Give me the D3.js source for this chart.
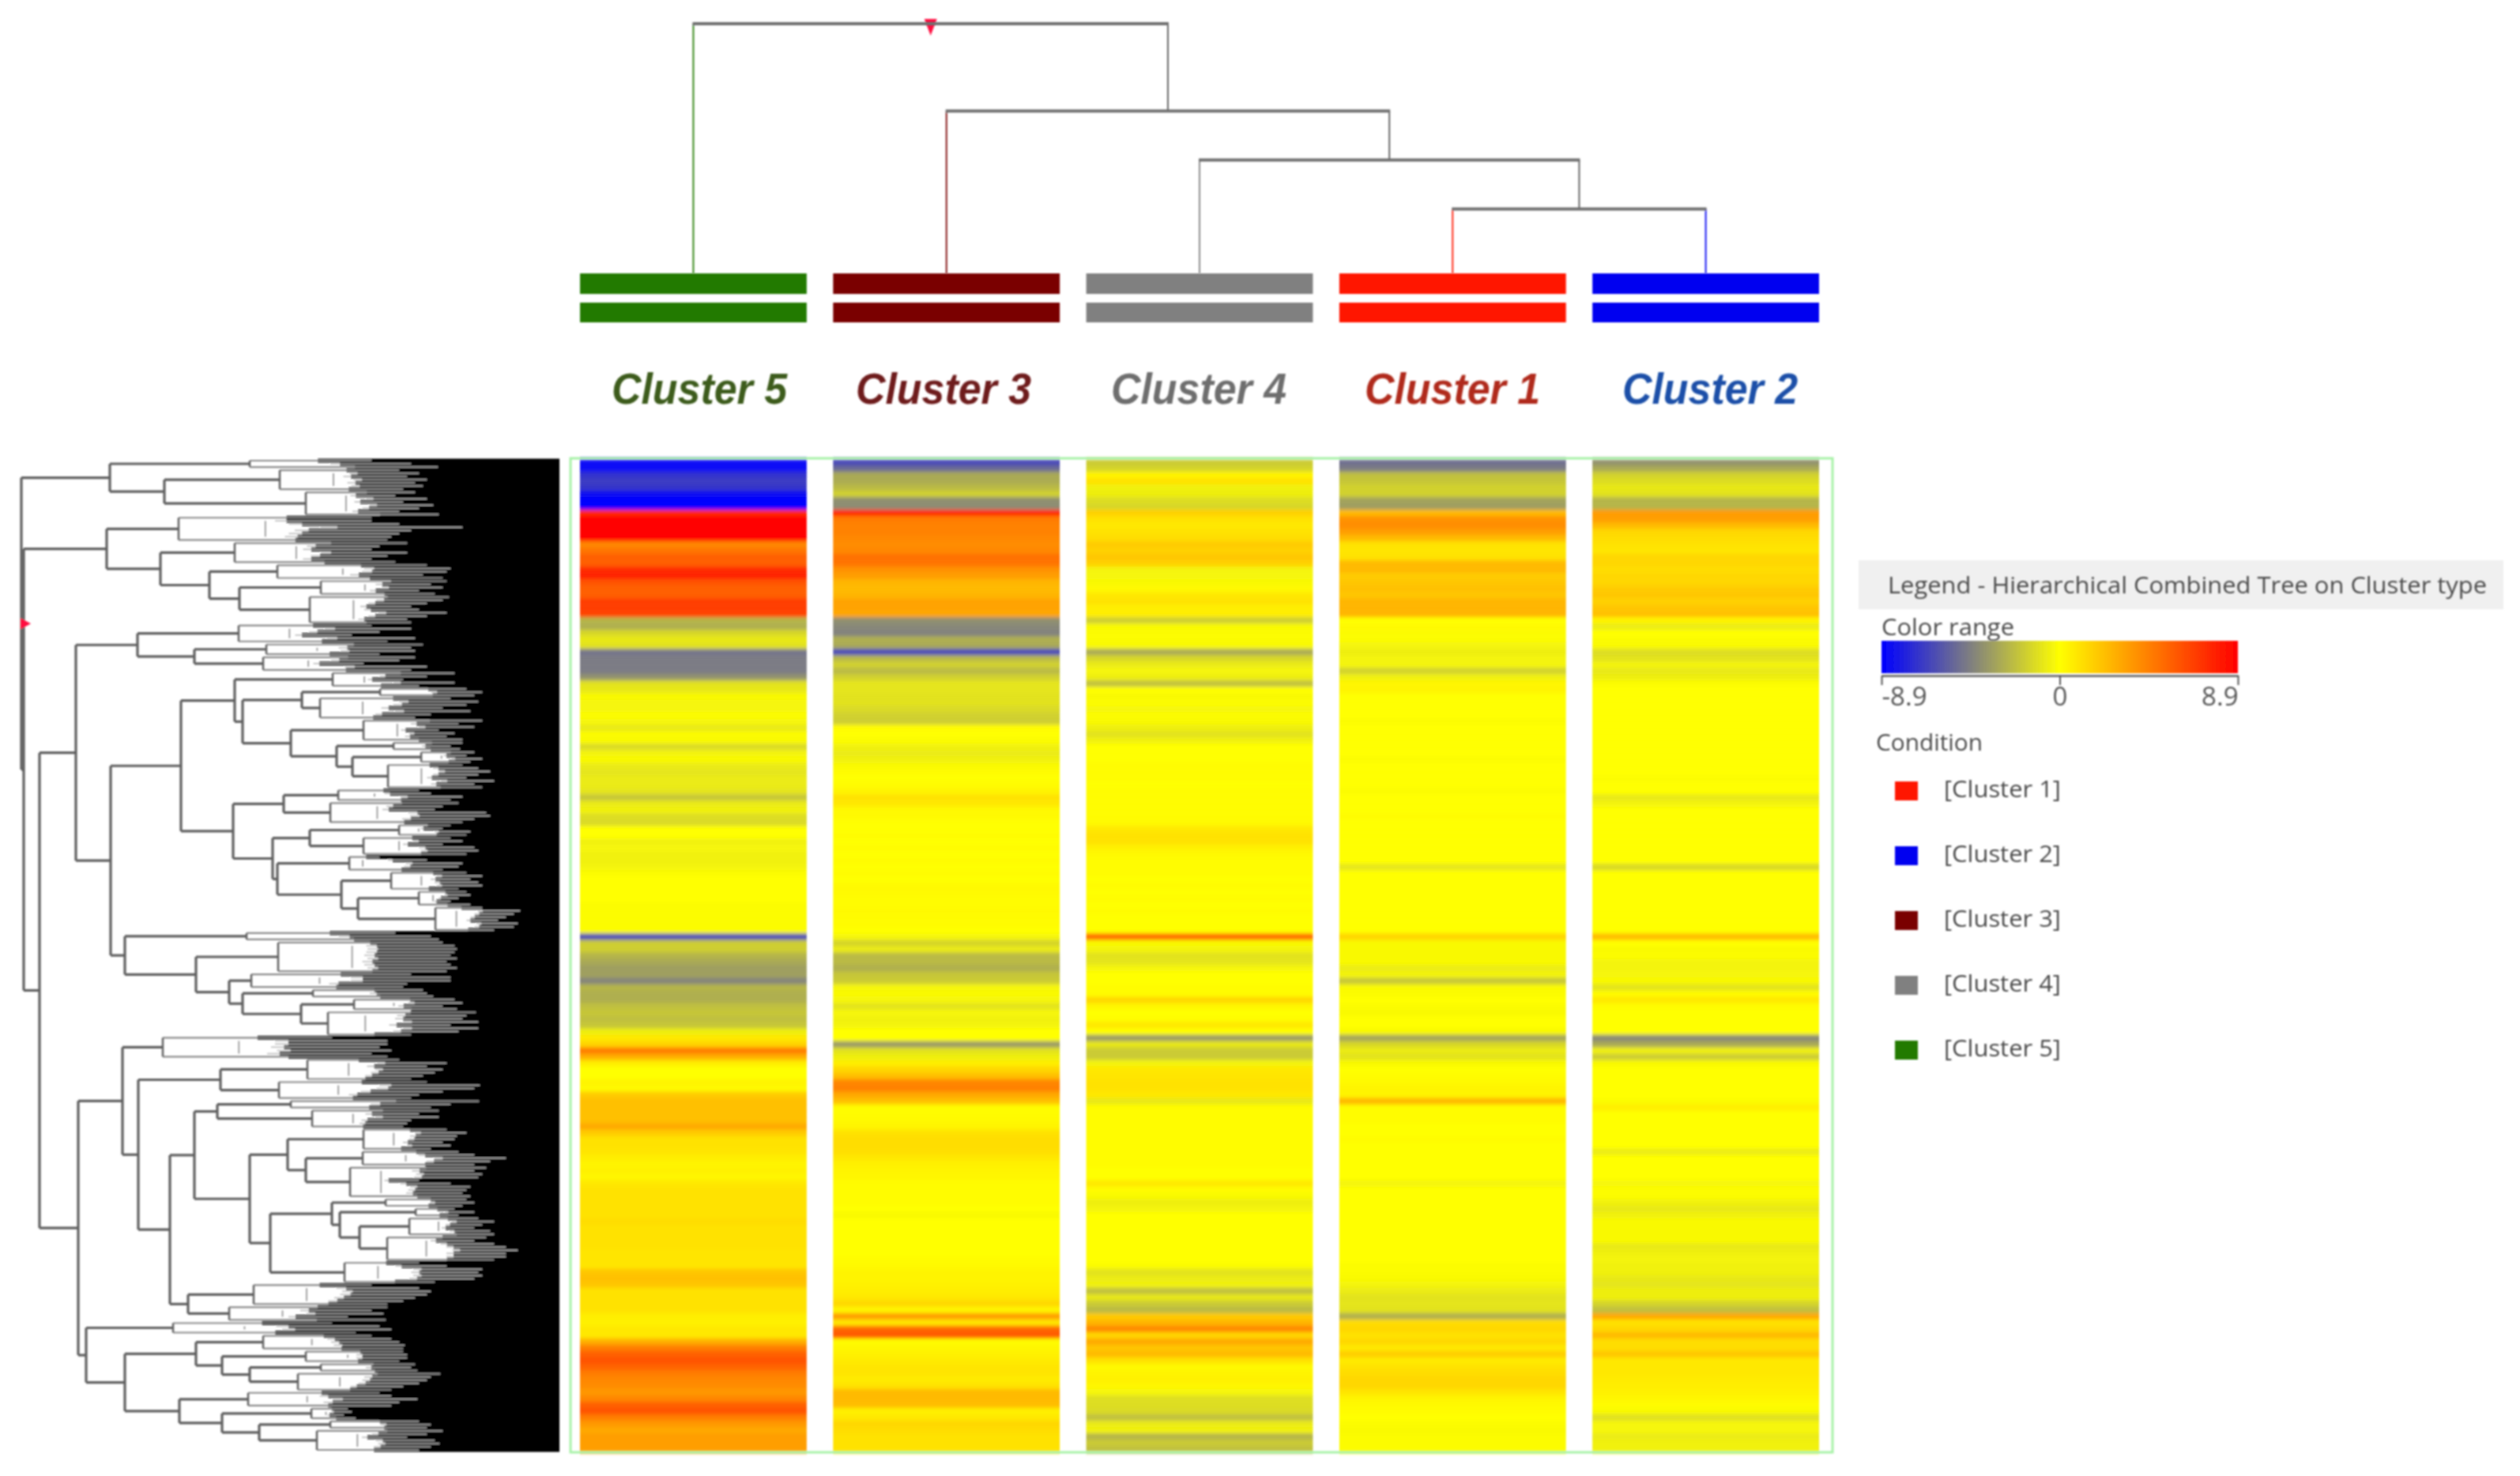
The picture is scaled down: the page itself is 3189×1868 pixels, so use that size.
<!DOCTYPE html>
<html><head><meta charset="utf-8">
<script src="https://cdnjs.cloudflare.com/ajax/libs/d3/7.8.5/d3.min.js"></script>
<style>html,body{margin:0;padding:0;background:#fff}svg{display:block}</style>
</head><body><svg id="c" width="3189" height="1868"></svg>
<script>
// ---------- heat map values (one per row, top to bottom) ----------
const columns = ["Cluster 5","Cluster 3","Cluster 4","Cluster 1","Cluster 2"];
const cluster5 = [
-8.6,-8.6,-7.2,-6.8,-7,-8.4,-8.9,-8.9,7.5,8.9,
8.9,8.9,8.9,4.2,4.8,5.6,5.6,7.4,7.8,6,
5.6,5.6,6.8,6.8,6.6,-2.6,-2.8,-1.4,-.8,-1,
-4.8,-4.6,-4.6,-4.6,-3.8,-1,-.8,-.2,-.3,-.3,
-.1,-.3,-.8,-.1,-.2,-1.3,-.4,-.2,-.7,-.9,
-.7,-.7,-.9,-2,-.7,-.5,-1.2,-1.3,0,0,
-.5,-.3,-.5,-.5,-.4,-.1,0,0,0,0,
-.1,-.1,-.1,-.1,-.1,-6.5,-1.7,-1.7,-2.6,-3,
-3.4,-3.3,-4.3,-2.6,-2.8,-2.8,-2.2,-2,-2.2,-2,
-.6,.8,1.5,4.6,2.8,.6,0,0,.4,.2,
1.8,2.2,2.2,2.2,2.2,3,1.8,1,1,.9,
.6,.4,.5,.3,.8,1,1,1,1,1,
1.2,1,1,1,1,.9,.9,.9,2,2.2,
2,1,1,1,1,.6,.5,.8,.8,2.8,
4.5,5.5,6,5.4,4.6,4.2,4,3.6,4.2,5.5,
6,4.5,3.6,3,3.4,3.4,3.4];
const cluster3 = [
-6.4,-5.2,-3,-2.9,-2.4,-1.6,-3.9,-4,7.5,4.6,
4.4,4.4,4.2,4,4.2,5,4.8,3.8,3.4,2.6,
2.4,2.6,3.2,3.2,3.1,-3.9,-4.2,-4.4,-2.8,-3,
-6.5,-2.5,-1.6,-2.4,-1.6,-.9,-.9,-1,-1,-1.3,
-1.6,-1.7,.1,0,-.1,-.5,-.7,-.5,-.2,.1,
0,.1,.4,1,.8,.2,.2,0,0,.1,
0,.1,0,.1,0,.1,0,.2,.2,.1,
.1,.2,.1,.1,0,-.3,-1.5,-.7,-2.4,-2.4,
-2.8,-2,-1.8,-.3,-.2,-.3,-1,-.3,-.5,-.4,
0,0,-3.6,-1,-.6,.6,1.4,2.2,4.2,4.4,
3,2.2,.1,.1,.2,.4,1,1.2,1.2,1.1,
.8,.5,.4,.3,.1,.1,.1,.1,0,-.2,
0,0,0,0,0,0,.1,.2,.4,.4,
.5,.6,.8,1.4,.3,3.5,.8,5.3,5.8,.1,
.3,.5,.7,.9,.9,.7,1,2.4,2.4,2.3,
.5,.8,1.4,1.2,1,1,1];
const cluster4 = [
-1.8,-1.5,.4,1,-.5,-.6,-1.2,-1.4,1.6,1,
.8,1,1.2,1.8,1.6,2,1.6,-.4,-.3,-.2,
.2,.8,1,.6,.6,-1.7,-.2,-.1,-.1,-.2,
-3,-1.4,-.7,-.3,-.6,-2.2,0,-.2,-.1,-.3,
-.1,-.2,-.6,-1,-.5,0,0,0,.1,.1,
.1,0,.1,.1,.1,.1,.1,.2,.8,1,
1,.5,.2,.1,.1,.1,0,.1,0,.1,
0,.1,0,0,0,5.4,-.2,-.4,-1,-.9,
-.3,0,0,.1,.1,1.4,.3,0,.1,.8,
0,-3.6,-.8,-1.8,-1.8,-.4,.8,.9,1,1,
.8,-.8,.1,.1,.1,.1,.1,.1,.1,.1,
.1,.1,0,0,.8,.1,-.2,-.6,-.4,0,
0,0,0,0,0,0,0,-.1,-1,-.7,
-.5,-2.2,-.8,-1.8,-2.4,1.8,2.6,4.2,1.4,3,
2,2.4,1,.2,.4,.5,.3,-.3,-1.1,-1.2,
-1.3,-2.2,-.7,-.5,-2.6,-1.8,-2.2];
const cluster1 = [
-5,-4.6,-2.2,-2,-1.6,-1.6,-3.2,-3.4,2.4,3.8,
4,3.4,2.4,1,.9,1,2.4,2.4,1.8,2,
2.2,2,2.6,2.6,2.6,0,.2,-.1,-.1,-.4,
-.6,-.4,-.4,-1.6,-.5,.3,.4,0,0,0,
0,-.1,0,0,0,0,0,-.1,0,0,
0,0,-.1,0,0,0,.1,0,0,0,
0,0,0,0,-.9,0,0,0,0,0,
0,0,0,0,0,1.5,-.2,-.2,-.2,-.2,
-.7,-.4,-2,-.2,-.1,0,-.1,-.2,0,0,
-.2,-3.2,-1.4,-.7,-1,-.2,0,.1,.2,.4,
.4,2.6,.1,.1,.1,0,0,.1,0,0,
0,0,0,0,-.4,0,0,0,0,0,
0,0,0,0,0,0,0,-.1,-.1,-.2,
-.4,-.7,-1,-.9,-1,-2.8,1.2,1.4,1,1.4,
.8,1.7,.7,1,1.2,1.4,1.4,.9,.4,.2,
.1,0,-.1,-.2,-.1,-.1,-.1];
const cluster2 = [
-3.8,-3,-1.6,-1.2,-.8,-1,-2.6,-2.6,3.5,3.4,
2.4,1.4,1.2,1,.9,1.4,1.4,1.2,1.4,1.4,
1.8,2,1.6,2,2.2,.4,-.7,0,-.1,-.2,
-1.2,-1,-.4,-.8,-.6,-.1,0,0,0,0,
0,0,0,0,0,0,0,0,0,0,
-.1,0,0,-.8,-.4,0,0,0,0,0,
0,0,0,0,-1.4,0,0,0,0,0,
0,0,0,0,0,2.4,0,-.2,-.1,-.4,
-.4,-.3,-.2,-1,.1,.8,.1,0,0,0,
0,-4.2,-3,-.5,-1.8,-.2,0,0,0,0,
0,-.1,.6,0,0,0,0,0,0,-.7,
0,0,0,0,-.3,-.1,-.1,-.5,-.8,-.5,
-.2,-.2,-.2,-.2,-.8,-.5,-.4,-.5,-.5,-.8,
-.9,-.6,-.6,-1.5,-2.2,3,1,1.4,2.4,1.2,
1.2,2,.8,.8,.8,.7,.6,.5,.3,.1,
-.2,-1.1,-.3,-.3,-.7,-.5,-.5];
const heatSeries = [cluster5,cluster3,cluster4,cluster1,cluster2];

// ---------- colours ----------
const rangeValues = [-8.9,0,8.9];
const rangeColors = ["#0000ff","#ffff00","#ff0000"];
const legendOrder = ["Cluster 1","Cluster 2","Cluster 3","Cluster 4","Cluster 5"];
const legendColors = ["#ff1500","#0000f0","#7a0000","#808080","#207a00"];
const labelColors = {"Cluster 5":"#3c5c1c","Cluster 3":"#6e1a1c","Cluster 4":"#6e6e6e","Cluster 1":"#b02a1c","Cluster 2":"#1a50a8"};

// ---------- condition tree (merge distance, children) ----------
const conditionTree = [100,"Cluster 5",[65,"Cluster 3",[45.4,"Cluster 4",[25.8,"Cluster 1","Cluster 2"]]]];

// ---------- gene tree: merge distance of each terminal clade and the tip distance of its leaves ----------
const cladeStart = [316,354,387,226,297,351,406,392,302,337,333,421,481,405,460,498,533,491,428,418,505,460,442,495,530,551,312,352,318,396,448,415,206,389,353,368,395,460,459,443,488,526,518,490,436,321,290,219,333,387,406,377,314,394,418,401];
const cladeTips = [
[470,520,554],[505,530,515,540,525,535,510],[525,500,540,510,548,530,505,555],[470,470,505,585,520,505,495,490],
[515,480,470,515,490,470,500],[540,570,565,535,560],[565,545,560,530,550],[568,560,540,520,530,565,540,515,520],
[470,520,480,445,525,490],[535,520,525,480],[525,505,460,540,520],[575,540,510,575,530],[590,610,600],
[570,605,590,560,595,545,525],[610,580,600,555,575,565,585],[585,570,582],[600,590,610,595],[585,605,620,605,590,625,600,610],
[530,545,585,570],[580,560,550,615,620,600,585],[570,560,595,590],[570,585,560,600,605,590],[480,540,585,580,560],
[590,610,595,605,610,580],[590,595,580,570,595],[610,658,650,640,630,655,650,625],[500,545,555],
[560,575,578,575,570,578,565,570,578,565],[520,570,570,515,510],[535,540,548],[575,585,560,578],[602,590,585,605,570,605,580,520],
[420,490,490,480,495,470,490],[505,565,540,560,550,535,520],[540,607,600,560,530,520],[606,570,545],[555,530,555,520,515,510],
[565,590,578,575,560,570,545],[580,600,640,620,600],[615,600,610,605,530,570,595,590,585,595],[590,600,585],[575,600,580],
[605,625,610,600,620,625],[615,600,625,640,655,640,640,625],[530,565,610,605,610,600,550],[470,530,545,540,525,510,490],
[490,470,485,440,488],[420,480,495,450],[470,495,505,512,510],[510,515,515,505],[525,520,528],[557,545,540,530,510,495],
[480,495,528,505,495],[440,445,435,450],[530,545,540],[560,540,515,550,556,545,530]];
// nested merges: [distance, left, right]; a plain integer is a clade number (1-based)
const geneTree = [27,
  [139,1,[208,2,3]],
  [30,
    [135,4,[203,5,[265,6,[303,7,8]]]],
    [50,
      [96,
        [174,9,[246,10,11]],
        [140,
          [229,
            [297,12,[307,[382,13,14],[368,15,[426,16,[446,17,18]]]]],
            [295,[359,19,20],[345,[392,21,22],[351,23,[432,24,[453,25,26]]]]]],
          [158,27,[248,28,[290,29,[307,30,[381,31,32]]]]]]],
      [99,
        [155,33,[175,[279,34,35],
          [215,
            [246,[275,36,37],[316,[364,38,[387,39,40]],[342,[420,41,[430,42,[455,43,44]]],45]]],
            [238,46,47]]]],
        [109,48,[158,[248,49,[281,50,[316,51,52]]],[227,53,[281,54,[328,55,56]]]]]]]]];

// ---------- drawing ----------
const svg = d3.select("#c");
const defs = svg.append("defs");
const mkBlur=(id,s)=>defs.append("filter").attr("id",id).attr("filterUnits","userSpaceOnUse")
  .attr("x",0).attr("y",0).attr("width",3189).attr("height",1868)
  .append("feGaussianBlur").attr("stdDeviation",s);
mkBlur("b1",1.3); mkBlur("b2",1.0); mkBlur("b3","1 2.6");
const heat = svg.append("g").attr("filter","url(#b3)");
const root = svg.append("g").attr("filter","url(#b1)");
const txt = svg.append("g").attr("filter","url(#b2)");

const color = d3.scaleLinear().domain(rangeValues).range(rangeColors).interpolate(d3.interpolateRgb);
const xCol = d3.scaleBand().domain(columns).range([734,2302]).paddingInner(0.1045);
const yRow = d3.scaleBand().domain(d3.range(cluster5.length)).range([581,1838]);

// heat map
columns.forEach((c,i)=>{
  heat.append("g").selectAll("rect").data(heatSeries[i]).join("rect")
    .attr("x",xCol(c)).attr("width",xCol.bandwidth())
    .attr("y",(d,r)=>yRow(r)).attr("height",yRow.bandwidth()+0.5)
    .attr("fill",d=>color(d));
});
// frame
root.append("rect").attr("x",722).attr("y",580).attr("width",1597).attr("height",1258)
  .attr("fill","none").attr("stroke","#a8f2a8").attr("stroke-width",3);

// condition strips
const strips=[[346,372],[383,408]];
const colOf=c=>legendColors[legendOrder.indexOf(c)];
columns.forEach(c=>strips.forEach(s=>{
  root.append("rect").attr("x",xCol(c)).attr("width",xCol.bandwidth())
    .attr("y",s[0]).attr("height",s[1]-s[0]).attr("fill",colOf(c));
}));

// condition tree
const toNode=d=>Array.isArray(d)?{h:d[0],children:[toNode(d[1]),toNode(d[2])]}:{h:0,name:d};
const condRoot=d3.hierarchy(toNode(conditionTree));
const yCond=d3.scaleLinear().domain([0,100]).range([346,30]);
condRoot.eachAfter(n=>{ n.px = n.children? d3.mean(n.children,k=>k.px) : xCol(n.data.name)+xCol.bandwidth()/2; });
const gCond=txt.append("g");
condRoot.descendants().filter(n=>n.children).forEach(n=>{
  n.children.forEach(k=>{
    gCond.append("line").attr("x1",k.px).attr("x2",k.px).attr("y1",yCond(n.data.h)).attr("y2",yCond(k.data.h))
      .attr("stroke",k.children?"#555":colOf(k.data.name)).attr("stroke-width",1.8);
  });
  gCond.append("line").attr("x1",n.children[0].px-1).attr("x2",n.children[1].px+1)
    .attr("y1",yCond(n.data.h)).attr("y2",yCond(n.data.h)).attr("stroke","#707070").attr("stroke-width",4);
});
root.append("path").attr("fill","#ff1040")
  .attr("d",d3.line()([[condRoot.px-8,yCond(100)-6],[condRoot.px+8,yCond(100)-6],[condRoot.px,yCond(100)+15]]));

// cluster labels
txt.append("g").selectAll("text").data(columns).join("text")
  .attr("x",(c,i)=>[885,1194,1517,1838,2164][i]).attr("y",511)
  .attr("text-anchor","middle").attr("font-family","Liberation Sans").attr("font-weight",700)
  .attr("font-style","italic").attr("font-size",55)
  .attr("textLength",222).attr("lengthAdjust","spacingAndGlyphs")
  .attr("fill",c=>labelColors[c]).text(c=>c);

// gene tree
const toGene=d=>{
  if(Array.isArray(d)) return {h:d[0],children:[toGene(d[1]),toGene(d[2])]};
  return {h:cladeStart[d-1],clade:true,children:cladeTips[d-1].map(t=>({h:t,leaf:true}))};
};
const geneRoot=d3.hierarchy(toGene(geneTree));
d3.cluster().size([1,1]).separation(()=>1)(geneRoot);
const yGene=d3.scaleLinear().domain([0,1]).range([581,1837]);
const xGene=d3.scaleLinear().domain([0,708]).range([0,708]);
const gTree=root.append("g");
const leaves=geneRoot.leaves();
const step=yGene(leaves[1].x)-yGene(leaves[0].x);
const darkStart=n=>n.parent.data.h+(n.data.h-n.parent.data.h)*0.56;
gTree.append("g").selectAll("rect").data(leaves).join("rect")
  .attr("x",n=>xGene(darkStart(n))).attr("width",n=>xGene(708)-xGene(darkStart(n)))
  .attr("y",n=>yGene(n.x)-step/2-0.5).attr("height",step+1).attr("fill","#000");
const L=(x1,y1,x2,y2,c,w)=>gTree.append("line").attr("x1",x1).attr("y1",y1).attr("x2",x2).attr("y2",y2).attr("stroke",c).attr("stroke-width",w);
// fine leaf lines first, structure on top
geneRoot.descendants().filter(n=>n.data.clade).forEach(n=>{
  const kids=n.children, x0=n.data.h, minTip=d3.min(kids,k=>k.data.h);
  const inner=x0+(minTip-x0)*0.45;
  kids.forEach((k,i)=>{
    const edge=i===0||i===kids.length-1;
    const start=edge?x0:x0+(k.data.h-x0)*0.5;
    L(xGene(start),yGene(k.x),xGene(k.data.h),yGene(k.x),edge?"#8c8c8c":"#b8b8b8",edge?2.2:1.5);
  });
  if(kids.length>3) L(xGene(inner),yGene(kids[1].x),xGene(inner),yGene(kids[kids.length-2].x),"#999",1.8);
  L(xGene(x0),yGene(kids[0].x),xGene(x0),yGene(kids[kids.length-1].x),"#666",2.6);
});
geneRoot.descendants().filter(n=>n.children&&!n.data.clade).forEach(n=>{
  const [a,b]=n.children;
  L(xGene(n.data.h),yGene(a.x),xGene(n.data.h),yGene(b.x),"#5e5e5e",3.2);
  [a,b].forEach(k=>L(xGene(n.data.h),yGene(k.x),xGene(k.data.h),yGene(k.x),"#5e5e5e",3.2));
});
root.append("path").attr("fill","#ff1040")
  .attr("d",d3.line()([[xGene(26),yGene(geneRoot.x)-7],[xGene(26),yGene(geneRoot.x)+7],[xGene(39),yGene(geneRoot.x)]]));

// legend
root.append("rect").attr("x",2352).attr("y",709).attr("width",816).attr("height",62).attr("fill","#f0f0f0");
const fontL="'Open Sans'", cText="#4a4a4a";
txt.append("text").attr("x",2389).attr("y",751).attr("font-family",fontL).attr("font-size",30).attr("fill",cText)
  .attr("textLength",758).attr("lengthAdjust","spacingAndGlyphs").text("Legend - Hierarchical Combined Tree on Cluster type");
txt.append("text").attr("x",2381).attr("y",804).attr("font-family",fontL).attr("font-size",30).attr("fill",cText)
  .attr("textLength",168).attr("lengthAdjust","spacingAndGlyphs").text("Color range");
const lg=defs.append("linearGradient").attr("id","lg");
rangeValues.forEach((v,i)=>lg.append("stop").attr("offset",(v-rangeValues[0])/(rangeValues[2]-rangeValues[0])).attr("stop-color",rangeColors[i]));
const xLeg=d3.scaleLinear().domain([-8.9,8.9]).range([2381,2832]);
root.append("rect").attr("x",xLeg(-8.9)).attr("y",811).attr("width",xLeg(8.9)-xLeg(-8.9)).attr("height",41).attr("fill","url(#lg)");
const ax=txt.append("g").attr("transform","translate(0,855)")
  .call(d3.axisBottom(xLeg).tickValues(rangeValues).tickSize(12).tickSizeOuter(0).tickFormat(d=>String(d)));
ax.select(".domain").attr("stroke","#777").attr("stroke-width",3);
ax.selectAll(".tick line").attr("stroke","#555").attr("stroke-width",2);
ax.selectAll(".tick text").attr("font-family",fontL).attr("font-size",33).attr("fill","#555")
  .attr("y",0).attr("dy",38)
  .attr("text-anchor",(d,i)=>["start","middle","end"][i]);
txt.append("text").attr("x",2374).attr("y",950).attr("font-family",fontL).attr("font-size",30).attr("fill",cText)
  .attr("textLength",135).attr("lengthAdjust","spacingAndGlyphs").text("Condition");
const yLeg=d3.scalePoint().domain(legendOrder).range([1001,1329]);
root.append("g").selectAll("rect").data(legendOrder).join("rect")
  .attr("x",2398).attr("width",29).attr("y",d=>yLeg(d)-12).attr("height",24)
  .attr("fill",(d,i)=>legendColors[i]);
txt.append("g").selectAll("text").data(legendOrder).join("text")
  .attr("x",2460).attr("y",d=>yLeg(d)+8).attr("font-family",fontL).attr("font-size",30).attr("fill",cText)
  .attr("textLength",148).attr("lengthAdjust","spacingAndGlyphs")
  .text(d=>"["+d+"]");
</script></body></html>
